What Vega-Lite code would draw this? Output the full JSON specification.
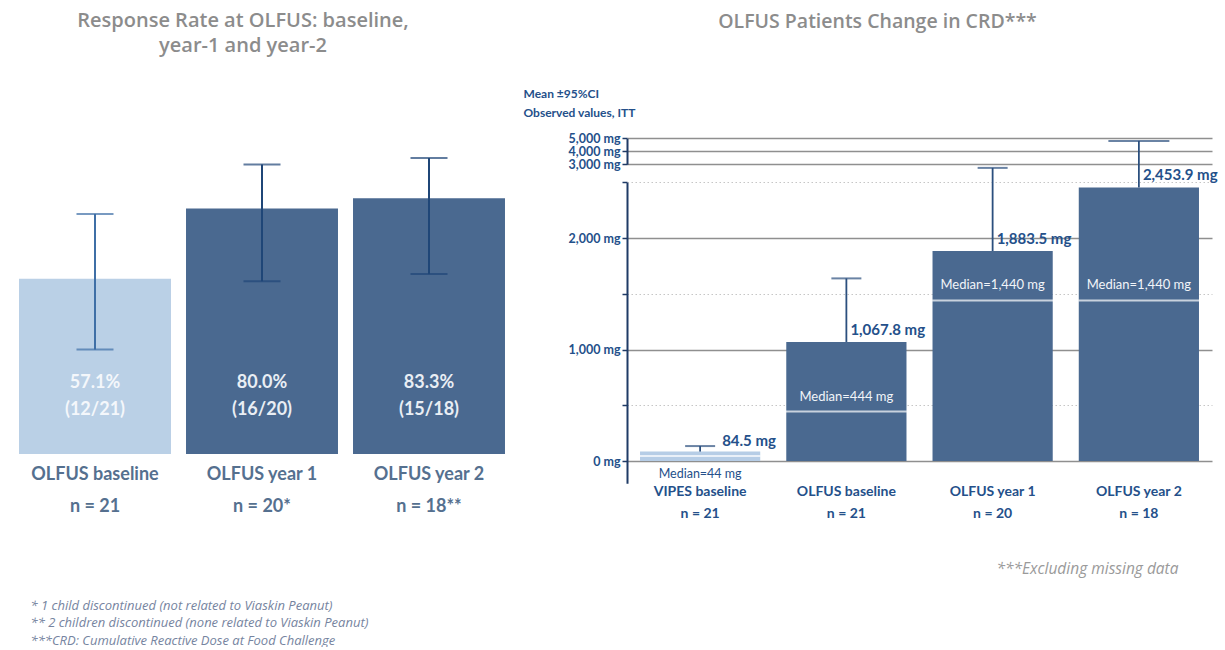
{
  "$schema": "https://vega.github.io/schema/vega-lite/v6.json",
  "background": "white",
  "padding": {"left": 12, "top": 10, "right": 10, "bottom": 0},
  "bounds": "flush",
  "spacing": 115,
  "config": {"view": {"stroke": null}},
  "hconcat": [
    {
      "width": 500,
      "height": 331,
      "title": {
        "text": ["Response Rate at OLFUS: baseline,", "year-1 and year-2"],
        "font": "Open Sans",
        "fontSize": 20,
        "fontWeight": 600,
        "color": "#8c8c8c",
        "lineHeight": 25.5,
        "anchor": "middle",
        "dx": -19,
        "offset": 74
      },
      "data": {
        "values": [
          {"label": "OLFUS baseline|n = 21", "timepoint": "baseline", "rate": 57.1, "responders": 12, "n": 21, "lo": 34.0, "hi": 78.2},
          {"label": "OLFUS year 1|n = 20*", "timepoint": "year 1", "rate": 80.0, "responders": 16, "n": 20, "lo": 56.3, "hi": 94.3},
          {"label": "OLFUS year 2|n = 18**", "timepoint": "year 2", "rate": 83.3, "responders": 15, "n": 18, "lo": 58.6, "hi": 96.4}
        ]
      },
      "transform": [
        {"calculate": "[format(datum.rate, '.1f') + '%', '(' + datum.responders + '/' + datum.n + ')']", "as": "inside"}
      ],
      "encoding": {
        "x": {
          "field": "label",
          "type": "nominal",
          "sort": null,
          "scale": {
            "domain": ["OLFUS baseline|n = 21", "OLFUS year 1|n = 20*", "OLFUS year 2|n = 18**"],
            "paddingInner": 0.09,
            "paddingOuter": 0.042
          },
          "axis": {
            "labelExpr": "split(datum.label, '|')",
            "labelAngle": 0,
            "labelBaseline": "top",
            "labelPadding": 4,
            "labelLineHeight": 32,
            "labelFont": "Lato",
            "labelFontWeight": "bold",
            "labelFontSize": 18,
            "labelColor": "#55708f",
            "domain": false,
            "ticks": false,
            "tickSize": 0,
            "title": [
              " *  1 child discontinued (not related to Viaskin Peanut)",
              "** 2 children discontinued (none related to Viaskin Peanut)",
              "***CRD: Cumulative Reactive Dose at Food Challenge"
            ],
            "titleX": 18,
            "titleY": 138,
            "titleAlign": "left",
            "titleBaseline": "top",
            "titleLineHeight": 17.5,
            "titleFont": "Open Sans",
            "titleFontStyle": "italic",
            "titleFontWeight": "normal",
            "titleFontSize": 13,
            "titleColor": "#7684a0"
          }
        }
      },
      "layer": [
        {
          "mark": {"type": "bar"},
          "encoding": {
            "y": {
              "field": "rate",
              "type": "quantitative",
              "scale": {"domain": [0, 100], "range": [324, 17], "nice": false},
              "axis": null
            },
            "color": {
              "condition": {"test": "datum.timepoint === 'baseline'", "value": "#bad0e6"},
              "value": "#4a6990"
            }
          }
        },
        {
          "mark": {"type": "rule", "strokeWidth": 2},
          "encoding": {
            "y": {"field": "lo", "type": "quantitative"},
            "y2": {"field": "hi"},
            "color": {
              "condition": {"test": "datum.timepoint === 'baseline'", "value": "#3f6fa6"},
              "value": "#1f4677"
            }
          }
        },
        {
          "mark": {"type": "tick", "orient": "horizontal", "size": 37, "thickness": 2},
          "encoding": {
            "y": {"field": "lo", "type": "quantitative"},
            "color": {
              "condition": {"test": "datum.timepoint === 'baseline'", "value": "#3f6fa6"},
              "value": "#1f4677"
            }
          }
        },
        {
          "mark": {"type": "tick", "orient": "horizontal", "size": 37, "thickness": 2},
          "encoding": {
            "y": {"field": "hi", "type": "quantitative"},
            "color": {
              "condition": {"test": "datum.timepoint === 'baseline'", "value": "#3f6fa6"},
              "value": "#1f4677"
            }
          }
        },
        {
          "mark": {"type": "text", "font": "Lato", "fontWeight": "bold", "fontSize": 18, "lineHeight": 27, "baseline": "middle", "align": "center"},
          "encoding": {
            "y": {"datum": 23},
            "text": {"field": "inside"},
            "color": {
              "condition": {"test": "datum.timepoint === 'baseline'", "value": "#f4f7fb"},
              "value": "#e9eef4"
            }
          }
        },
        {
          "mark": {"type": "rule", "color": "#4d4d4d", "strokeWidth": 2},
          "encoding": {"y": {"datum": 0}}
        }
      ]
    },
    {
      "width": 585,
      "height": 331,
      "title": {
        "text": "OLFUS Patients Change in CRD***",
        "font": "Open Sans",
        "fontSize": 19.5,
        "fontWeight": 600,
        "color": "#8c8c8c",
        "anchor": "middle",
        "dx": -42,
        "offset": 55
      },
      "data": {
        "values": [
          {"label": "VIPES baseline|n = 21", "study": "VIPES", "mean": 84.5, "median": 44, "upper": 134},
          {"label": "OLFUS baseline|n = 21", "study": "OLFUS", "mean": 1067.8, "median": 444, "upper": 1638},
          {"label": "OLFUS year 1|n = 20", "study": "OLFUS", "mean": 1883.5, "median": 1440, "upper": 2900},
          {"label": "OLFUS year 2|n = 18", "study": "OLFUS", "mean": 2453.9, "median": 1440, "upper": 4800}
        ]
      },
      "transform": [
        {"calculate": "format(datum.mean, ',.1f') + ' mg'", "as": "meanLabel"},
        {"calculate": "'Median=' + format(datum.median, ',') + ' mg'", "as": "medianLabel"}
      ],
      "encoding": {
        "x": {
          "field": "label",
          "type": "nominal",
          "sort": null,
          "scale": {
            "domain": ["VIPES baseline|n = 21", "OLFUS baseline|n = 21", "OLFUS year 1|n = 20", "OLFUS year 2|n = 18"],
            "paddingInner": 0.178,
            "paddingOuter": 0.089
          },
          "axis": {
            "labelExpr": "split(datum.label, '|')",
            "labelAngle": 0,
            "labelBaseline": "top",
            "labelPadding": 23,
            "labelLineHeight": 22,
            "labelFont": "Lato",
            "labelFontWeight": "bold",
            "labelFontSize": 14,
            "labelColor": "#24508a",
            "domain": false,
            "ticks": false,
            "tickSize": 0,
            "title": "***Excluding missing data",
            "titleX": 551,
            "titleY": 107,
            "titleAlign": "right",
            "titleBaseline": "middle",
            "titleFont": "Open Sans",
            "titleFontStyle": "italic",
            "titleFontWeight": "normal",
            "titleFontSize": 15.5,
            "titleColor": "#9a9a9a"
          }
        }
      },
      "layer": [
        {
          "mark": {"type": "bar"},
          "encoding": {
            "y": {
              "field": "mean",
              "type": "quantitative",
              "scale": {"domain": [-200, 0, 2500, 3000, 5000], "range": [353.3, 331, 52.3, 34.3, 8.3], "nice": false, "zero": false},
              "axis": {
                "values": [0, 500, 1000, 1500, 2000, 2500, 3000, 4000, 5000],
                "labelExpr": "datum.value % 1000 === 0 ? format(datum.value, ',') + ' mg' : ''",
                "labelFont": "Lato",
                "labelFontWeight": "bold",
                "labelFontSize": 12.5,
                "labelColor": "#24508a",
                "labelOverlap": false,
                "labelPadding": 2,
                "tickSize": 5,
                "tickColor": "#1f3b66",
                "tickWidth": 1.5,
                "domain": true,
                "domainColor": "#1f3b66",
                "domainWidth": 2,
                "domainDash": [301, 18, 60],
                "grid": true,
                "gridColor": {"condition": {"test": "datum.value % 1000 === 0", "value": "#8f8f8f"}, "value": "#c6c6c6"},
                "gridDash": {"condition": {"test": "datum.value % 1000 === 0", "value": []}, "value": [1.5, 2.5]},
                "gridWidth": {"condition": {"test": "datum.value % 1000 === 0", "value": 1.5}, "value": 1.2},
                "title": ["Mean ±95%CI", "Observed values, ITT"],
                "titleAngle": 0,
                "titleAlign": "left",
                "titleBaseline": "top",
                "titleX": -104,
                "titleY": -42,
                "titleLineHeight": 19,
                "titleFont": "Lato",
                "titleFontSize": 12,
                "titleFontWeight": "bold",
                "titleColor": "#24508a"
              }
            },
            "color": {
              "condition": {"test": "datum.study === 'VIPES'", "value": "#b6cde6"},
              "value": "#4a6990"
            }
          }
        },
        {
          "mark": {"type": "tick", "orient": "horizontal", "size": 121, "thickness": 2, "color": "white"},
          "encoding": {"y": {"field": "median", "type": "quantitative"}}
        },
        {
          "mark": {"type": "rule", "strokeWidth": 1.8, "color": "#2b4f7e"},
          "encoding": {
            "y": {"field": "mean", "type": "quantitative"},
            "y2": {"field": "upper"}
          }
        },
        {
          "mark": {"type": "tick", "orient": "horizontal", "thickness": 2, "color": "#2b4f7e"},
          "encoding": {
            "y": {"field": "upper", "type": "quantitative"},
            "size": {"condition": {"test": "datum.label === 'OLFUS year 2|n = 18'", "value": 61}, "value": 30}
          }
        },
        {
          "transform": [{"filter": "datum.study === 'OLFUS'"}],
          "mark": {"type": "text", "align": "left", "baseline": "middle", "dx": 4, "dy": -12, "font": "Lato", "fontWeight": "bold", "fontSize": 15, "color": "#24508a"},
          "encoding": {
            "y": {"field": "mean", "type": "quantitative"},
            "text": {"field": "meanLabel"}
          }
        },
        {
          "transform": [{"filter": "datum.study === 'VIPES'"}],
          "mark": {"type": "text", "align": "left", "baseline": "middle", "dx": 22, "dy": -11, "font": "Lato", "fontWeight": "bold", "fontSize": 15, "color": "#24508a"},
          "encoding": {
            "y": {"field": "mean", "type": "quantitative"},
            "text": {"field": "meanLabel"}
          }
        },
        {
          "transform": [{"filter": "datum.study === 'OLFUS'"}],
          "mark": {"type": "text", "align": "center", "baseline": "middle", "dy": -15, "font": "Lato", "fontSize": 13, "color": "#f2f5f9"},
          "encoding": {
            "y": {"field": "median", "type": "quantitative"},
            "text": {"field": "medianLabel"}
          }
        },
        {
          "transform": [{"filter": "datum.study === 'VIPES'"}],
          "mark": {"type": "text", "align": "center", "baseline": "middle", "dy": 18, "font": "Lato", "fontSize": 12.5, "color": "#24508a"},
          "encoding": {
            "y": {"field": "median", "type": "quantitative"},
            "text": {"field": "medianLabel"}
          }
        }
      ]
    }
  ]
}
